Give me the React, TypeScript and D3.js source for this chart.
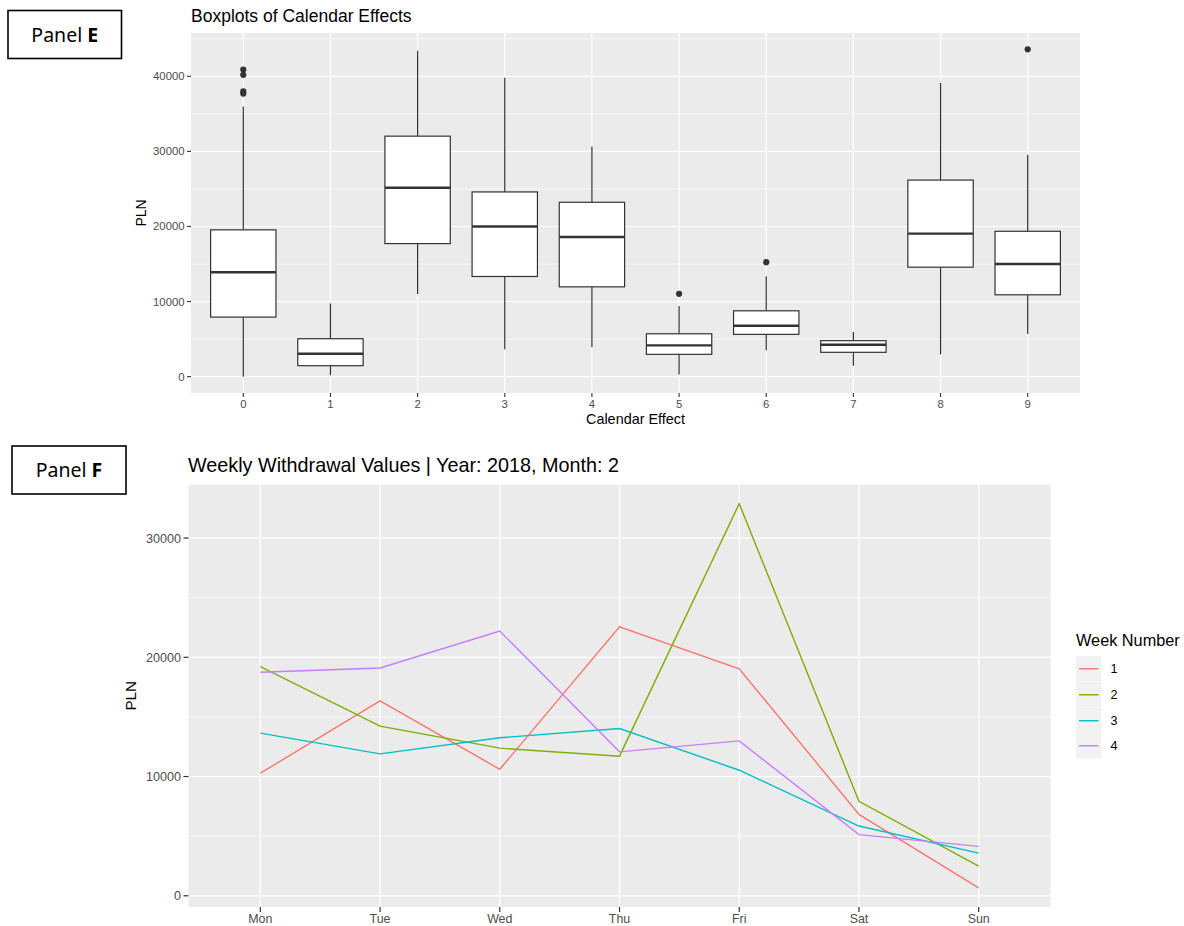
import React from "react";
import * as d3 from "d3";

// ---- Calendar effect box plot statistics (PLN) ----
const effects = ["0", "1", "2", "3", "4", "5", "6", "7", "8", "9"];
const whiskerLow = [0, 200, 11000, 3640, 3900, 300, 3500, 1460, 2970, 5670];
const q1 = [7930, 1460, 17720, 13340, 11960, 2970, 5630, 3240, 14580, 10900];
const medians = [13900, 3050, 25150, 20000, 18600, 4170, 6780, 4250, 19050, 15000];
const q3 = [19550, 5050, 32030, 24600, 23220, 5710, 8770, 4790, 26180, 19360];
const whiskerHigh = [35970, 9750, 43400, 39800, 30660, 9400, 13380, 5940, 39120, 29550];
const outlierEffect = ["0", "0", "0", "0", "5", "6", "9"];
const outlierValue = [40900, 40200, 38000, 37700, 11030, 15240, 43590];
const boxTicks = [0, 10000, 20000, 30000, 40000];

// ---- Weekly withdrawals, February 2018 (PLN) ----
const days = ["Mon", "Tue", "Wed", "Thu", "Fri", "Sat", "Sun"];
const week1 = [10280, 16350, 10610, 22550, 19040, 6830, 670];
const week2 = [19210, 14230, 12380, 11710, 32880, 7920, 2490];
const week3 = [13640, 11900, 13250, 14030, 10530, 5850, 3580];
const week4 = [18740, 19100, 22200, 12070, 12990, 5130, 4140];
const weekNames = ["1", "2", "3", "4"];
const weekColors = ["#F8766D", "#7CAE00", "#00BFC4", "#C77CFF"];
const lineTicks = [0, 10000, 20000, 30000];

const FONT = "'Liberation Sans', Arial, Helvetica, sans-serif";
const PANEL_BG = "#EBEBEB";
const INK = "#333333";
const TICK_TEXT = "#4D4D4D";

function expandDomain(lo: number, hi: number): [number, number] {
  const pad = (hi - lo) * 0.05;
  return [lo - pad, hi + pad];
}

function minorBreaks(major: number[], domain: [number, number]) {
  const step = major[1] - major[0];
  const out: number[] = [];
  for (let v = major[0] - step / 2; v <= major[major.length - 1] + step; v += step) {
    if (v >= domain[0] && v <= domain[1]) out.push(v);
  }
  return out;
}

function PanelTag({ x, y, w, h, letter }: { x: number; y: number; w: number; h: number; letter: string }) {
  return (
    <g>
      <rect x={x} y={y} width={w} height={h} fill="white" stroke="black" strokeWidth={1.6} />
      <text
        x={x + w / 2}
        y={y + h / 2 + 7}
        textAnchor="middle"
        fontFamily="'Noto Sans', sans-serif"
        fontSize={19.5}
        fill="black"
      >
        Panel <tspan fontWeight="bold">{letter}</tspan>
      </text>
    </g>
  );
}

function BoxPanel() {
  const left = 191, right = 1080, top = 33, bottom = 393;
  const allVals = [...whiskerLow, ...whiskerHigh, ...outlierValue];
  const yDom = expandDomain(d3.min(allVals)!, d3.max(allVals)!);
  const y = d3.scaleLinear().domain(yDom).range([bottom, top]);
  const x = d3.scaleLinear().domain([0.4, effects.length + 0.6]).range([left, right]);
  const pos = (e: string) => x(effects.indexOf(e) + 1);
  const unit = x(2) - x(1);
  const halfW = (unit * 0.75) / 2;
  const minors = minorBreaks(boxTicks, yDom as [number, number]);

  return (
    <g>
      <text x={left} y={22} fontFamily={FONT} fontSize={17.5} fill="black">
        Boxplots of Calendar Effects
      </text>
      <rect x={left} y={top} width={right - left} height={bottom - top} fill={PANEL_BG} />
      {minors.map((v) => (
        <line key={"mn" + v} x1={left} x2={right} y1={y(v)} y2={y(v)} stroke="white" strokeWidth={0.6} />
      ))}
      {boxTicks.map((v) => (
        <line key={"mj" + v} x1={left} x2={right} y1={y(v)} y2={y(v)} stroke="white" strokeWidth={1.2} />
      ))}
      {effects.map((e) => (
        <line key={"vx" + e} x1={pos(e)} x2={pos(e)} y1={top} y2={bottom} stroke="white" strokeWidth={1.2} />
      ))}
      {effects.map((e, i) => {
        const cx = pos(e);
        return (
          <g key={"box" + e}>
            <line x1={cx} x2={cx} y1={y(whiskerHigh[i])} y2={y(q3[i])} stroke={INK} strokeWidth={1.2} />
            <line x1={cx} x2={cx} y1={y(q1[i])} y2={y(whiskerLow[i])} stroke={INK} strokeWidth={1.2} />
            <rect
              x={cx - halfW}
              y={y(q3[i])}
              width={halfW * 2}
              height={y(q1[i]) - y(q3[i])}
              fill="white"
              stroke={INK}
              strokeWidth={1.2}
            />
            <line x1={cx - halfW} x2={cx + halfW} y1={y(medians[i])} y2={y(medians[i])} stroke={INK} strokeWidth={2.4} />
          </g>
        );
      })}
      {outlierValue.map((v, i) => (
        <circle key={"o" + i} cx={pos(outlierEffect[i])} cy={y(v)} r={3.1} fill={INK} />
      ))}
      {/* y axis */}
      {boxTicks.map((v) => (
        <g key={"yt" + v}>
          <line x1={left - 4} x2={left} y1={y(v)} y2={y(v)} stroke={INK} strokeWidth={1.1} />
          <text x={left - 6.5} y={y(v) + 4} textAnchor="end" fontFamily={FONT} fontSize={11.3} fill={TICK_TEXT}>
            {v}
          </text>
        </g>
      ))}
      {/* x axis */}
      {effects.map((e) => (
        <g key={"xt" + e}>
          <line x1={pos(e)} x2={pos(e)} y1={bottom} y2={bottom + 4} stroke={INK} strokeWidth={1.1} />
          <text x={pos(e)} y={bottom + 15} textAnchor="middle" fontFamily={FONT} fontSize={11.3} fill={TICK_TEXT}>
            {e}
          </text>
        </g>
      ))}
      <text x={(left + right) / 2} y={424} textAnchor="middle" fontFamily={FONT} fontSize={14.4} fill="black">
        Calendar Effect
      </text>
      <text
        transform={`translate(145.5, ${(top + bottom) / 2}) rotate(-90)`}
        textAnchor="middle"
        fontFamily={FONT}
        fontSize={13.9}
        fill="black"
      >
        PLN
      </text>
    </g>
  );
}

function LinePanel() {
  const left = 188.5, right = 1050.5, top = 484.5, bottom = 907;
  const weeks = [week1, week2, week3, week4];
  const all = weeks.flat();
  const yDom = expandDomain(d3.min(all)!, d3.max(all)!);
  const y = d3.scaleLinear().domain(yDom).range([bottom, top]);
  const x = d3.scaleLinear().domain([0.4, days.length + 0.6]).range([left, right]);
  const minors = minorBreaks(lineTicks, yDom as [number, number]);
  const line = d3
    .line<number>()
    .x((_, i) => x(i + 1))
    .y((d) => y(d));

  const legendX = 1076;
  const keyYs = [656, 682, 708, 733];

  return (
    <g>
      <text x={188} y={472} fontFamily={FONT} fontSize={19.8} fill="black">
        Weekly Withdrawal Values | Year: 2018, Month: 2
      </text>
      <rect x={left} y={top} width={right - left} height={bottom - top} fill={PANEL_BG} />
      {minors.map((v) => (
        <line key={"mn" + v} x1={left} x2={right} y1={y(v)} y2={y(v)} stroke="white" strokeWidth={0.65} />
      ))}
      {lineTicks.map((v) => (
        <line key={"mj" + v} x1={left} x2={right} y1={y(v)} y2={y(v)} stroke="white" strokeWidth={1.3} />
      ))}
      {days.map((d, i) => (
        <line key={"vx" + d} x1={x(i + 1)} x2={x(i + 1)} y1={top} y2={bottom} stroke="white" strokeWidth={1.3} />
      ))}
      {weeks.map((w, k) => (
        <path key={"w" + k} d={line(w) ?? ""} fill="none" stroke={weekColors[k]} strokeWidth={1.4} />
      ))}
      {lineTicks.map((v) => (
        <g key={"yt" + v}>
          <line x1={left - 5} x2={left} y1={y(v)} y2={y(v)} stroke={INK} strokeWidth={1.2} />
          <text x={left - 7.5} y={y(v) + 4.5} textAnchor="end" fontFamily={FONT} fontSize={12.6} fill={TICK_TEXT}>
            {v}
          </text>
        </g>
      ))}
      {days.map((d, i) => (
        <g key={"xt" + d}>
          <line x1={x(i + 1)} x2={x(i + 1)} y1={bottom} y2={bottom + 5} stroke={INK} strokeWidth={1.2} />
          <text x={x(i + 1)} y={bottom + 15.5} textAnchor="middle" fontFamily={FONT} fontSize={12.4} fill={TICK_TEXT}>
            {d}
          </text>
        </g>
      ))}
      <text
        transform={`translate(136, ${(top + bottom) / 2}) rotate(-90)`}
        textAnchor="middle"
        fontFamily={FONT}
        fontSize={15.2}
        fill="black"
      >
        PLN
      </text>
      {/* legend */}
      <text x={legendX} y={645.5} fontFamily={FONT} fontSize={16.3} fill="black">
        Week Number
      </text>
      {weekNames.map((n, k) => (
        <g key={"lg" + n}>
          <rect x={legendX} y={keyYs[k]} width={25.5} height={25.5} fill="#F2F2F2" />
          <line
            x1={legendX + 3}
            x2={legendX + 22.5}
            y1={keyYs[k] + 12.75}
            y2={keyYs[k] + 12.75}
            stroke={weekColors[k]}
            strokeWidth={1.4}
          />
          <text x={legendX + 34.5} y={keyYs[k] + 17.2} fontFamily={FONT} fontSize={12.6} fill="black">
            {n}
          </text>
        </g>
      ))}
    </g>
  );
}

export default function App() {
  return (
    <svg
      width={1184}
      height={926}
      viewBox="0 0 1184 926"
      style={{ position: "absolute", left: 0, top: 0, background: "white" }}
    >
      <rect x={0} y={0} width={1184} height={926} fill="white" />
      <PanelTag x={8} y={10.5} w={113.5} h={48} letter="E" />
      <PanelTag x={12} y={446} w={114} h={48} letter="F" />
      <BoxPanel />
      <LinePanel />
    </svg>
  );
}
